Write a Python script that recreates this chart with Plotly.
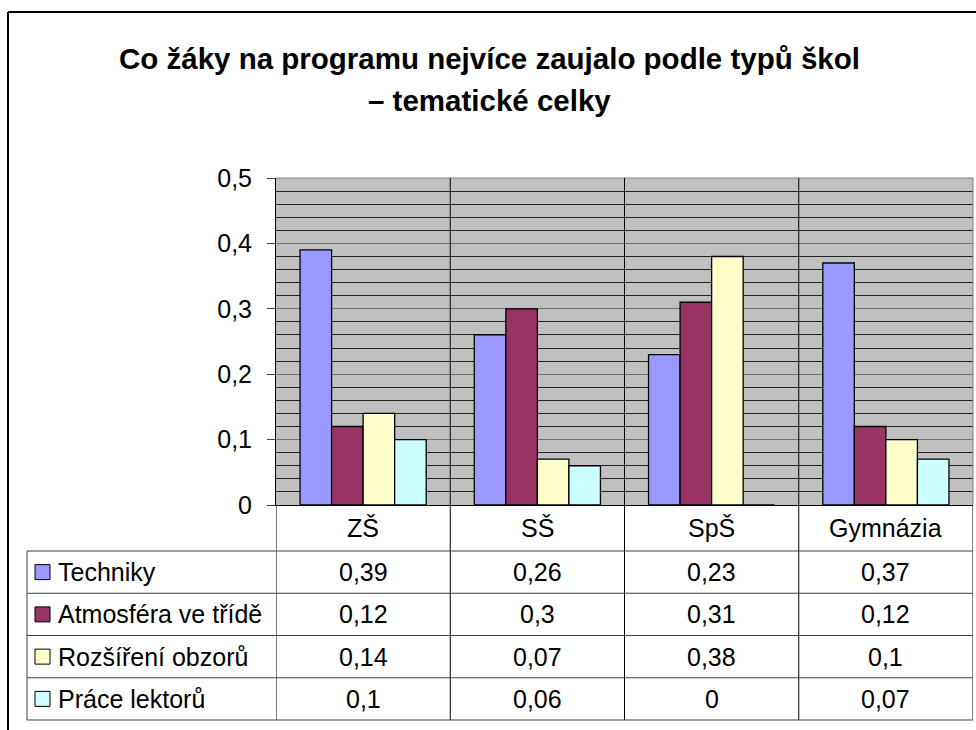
"""
Co žáky na programu nejvíce zaujalo podle typů škol – sloupcový graf s tabulkou dat.
"""

import plotly.graph_objects as go

# --- data -------------------------------------------------------------------
categories = ["ZŠ", "SŠ", "SpŠ", "Gymnázia"]
series_names = ["Techniky", "Atmosféra ve třídě", "Rozšíření obzorů", "Práce lektorů"]
techniky = [0.39, 0.26, 0.23, 0.37]
atmosfera = [0.12, 0.3, 0.31, 0.12]
rozsireni = [0.14, 0.07, 0.38, 0.1]
prace_lektoru = [0.1, 0.06, 0, 0.07]
y_ticks = [0, 0.1, 0.2, 0.3, 0.4, 0.5]

series_values = [techniky, atmosfera, rozsireni, prace_lektoru]
SERIES_COLORS = ["#9999FF", "#993366", "#FFFFCC", "#CCFFFF"]

TITLE_LINES = [
    "Co žáky na programu nejvíce zaujalo podle typů škol",
    "– tematické celky",
]

W, H = 976, 730
FONT = "Arial, Liberation Sans, sans-serif"
TEXT_SIZE = 25

# plot area in pixels (Excel-like layout)
PLOT_L, PLOT_R, PLOT_T, PLOT_B = 276, 973, 178, 505
TABLE_L, HEADER_B, TABLE_B = 27, 551, 720


def px(x):
    return x / W


def py(y):
    return 1 - y / H


def fmt(v):
    # czech decimal comma
    return f"{v:g}".replace(".", ",")


def text_font(size=TEXT_SIZE):
    return {"family": FONT, "size": size, "color": "#000000"}


fig = go.Figure()

for name, vals, color in zip(series_names, series_values, SERIES_COLORS):
    fig.add_trace(
        go.Bar(
            x=categories,
            y=vals,
            name=name,
            marker={"color": color, "line": {"color": "#000000", "width": 1.3}},
            hoverinfo="x+y+name",
        )
    )

shapes = []
annotations = []

# outer frame of the chart
shapes.append(dict(type="line", xref="paper", yref="paper",
                   x0=px(8), x1=px(W + 5), y0=py(12), y1=py(12),
                   line={"color": "#000000", "width": 2}))
shapes.append(dict(type="line", xref="paper", yref="paper",
                   x0=px(8), x1=px(8), y0=py(12), y1=py(H + 5),
                   line={"color": "#000000", "width": 2}))

# plot area border (top and right grey)
shapes.append(dict(type="line", xref="paper", yref="paper",
                   x0=px(PLOT_L), x1=px(PLOT_R), y0=py(PLOT_T), y1=py(PLOT_T),
                   line={"color": "#808080", "width": 1}))
shapes.append(dict(type="line", xref="paper", yref="paper",
                   x0=px(PLOT_R), x1=px(PLOT_R), y0=py(PLOT_T), y1=py(PLOT_B),
                   line={"color": "#808080", "width": 1}))

# category separators through plot and table
for i in range(len(categories) + 1):
    shapes.append(dict(type="line", xref="x", yref="paper",
                       x0=i - 0.5, x1=i - 0.5,
                       y0=py(TABLE_B), y1=py(PLOT_T if 0 < i < len(categories) else PLOT_B),
                       line={"color": "#000000", "width": 1}))

# table rows
n_rows = len(series_names)
row_h = (TABLE_B - HEADER_B) / n_rows
row_lines = [HEADER_B + k * row_h for k in range(n_rows + 1)]
for yl in row_lines:
    shapes.append(dict(type="line", xref="paper", yref="paper",
                       x0=px(TABLE_L), x1=px(PLOT_R), y0=py(yl), y1=py(yl),
                       line={"color": "#404040", "width": 1}))
shapes.append(dict(type="line", xref="paper", yref="paper",
                   x0=px(TABLE_L), x1=px(TABLE_L), y0=py(HEADER_B), y1=py(TABLE_B),
                   line={"color": "#404040", "width": 1}))

# header row: category names
for cat in categories:
    annotations.append(dict(x=cat, xref="x", y=py((PLOT_B + HEADER_B) / 2), yref="paper",
                            text=cat, showarrow=False, xanchor="center", yanchor="middle",
                            font=text_font()))

# table body: legend keys, names and values
for k, (name, vals, color) in enumerate(zip(series_names, series_values, SERIES_COLORS)):
    yc = (row_lines[k] + row_lines[k + 1]) / 2
    shapes.append(dict(type="rect", xref="paper", yref="paper",
                       x0=px(35), x1=px(50), y0=py(yc - 7.5), y1=py(yc + 7.5),
                       fillcolor=color, line={"color": "#000000", "width": 1}))
    annotations.append(dict(x=px(56), xref="paper", y=py(yc), yref="paper",
                            text=name, showarrow=False, xanchor="left", yanchor="middle",
                            font=text_font()))
    for cat, v in zip(categories, vals):
        annotations.append(dict(x=cat, xref="x", y=py(yc), yref="paper",
                                text=fmt(v), showarrow=False,
                                xanchor="center", yanchor="middle",
                                font=text_font()))

# title (two lines)
for line, yc in zip(TITLE_LINES, [58, 100]):
    annotations.append(dict(x=px(489), xref="paper", y=py(yc), yref="paper",
                            text=f"<b>{line}</b>", showarrow=False,
                            xanchor="center", yanchor="middle",
                            font=text_font(29.5)))

fig.update_layout(
    width=W,
    height=H,
    autosize=False,
    margin={"l": 0, "r": 0, "t": 0, "b": 0, "pad": 0, "autoexpand": False},
    paper_bgcolor="#FFFFFF",
    plot_bgcolor="#C0C0C0",
    separators=", ",
    barmode="group",
    bargap=0.276,
    bargroupgap=0,
    showlegend=False,
    font={"family": FONT, "color": "#000000"},
    xaxis={
        "domain": [px(PLOT_L), px(PLOT_R)],
        "range": [-0.5, len(categories) - 0.5],
        "showticklabels": False,
        "showgrid": False,
        "ticks": "",
        "showline": True,
        "linecolor": "#000000",
        "linewidth": 1,
        "zeroline": False,
        "automargin": False,
        "fixedrange": True,
    },
    yaxis={
        "domain": [py(PLOT_B), py(PLOT_T)],
        "range": [0, 0.5],
        "tickvals": y_ticks,
        "ticktext": [fmt(t) for t in y_ticks],
        "ticks": "outside",
        "ticklen": 8,
        "tickcolor": "#404040",
        "ticklabelstandoff": 10,
        "tickfont": text_font(),
        "showgrid": True,
        "gridcolor": "#707070",
        "gridwidth": 1,
        "minor": {"dtick": 0.02, "showgrid": True, "gridcolor": "#202020", "gridwidth": 1},
        "showline": True,
        "linecolor": "#000000",
        "linewidth": 1,
        "zeroline": False,
        "automargin": False,
        "fixedrange": True,
    },
    shapes=shapes,
    annotations=annotations,
)

fig.write_html(
    "out.html",
    config={"displayModeBar": False},
    post_script="document.body.style.margin='0';",
)
